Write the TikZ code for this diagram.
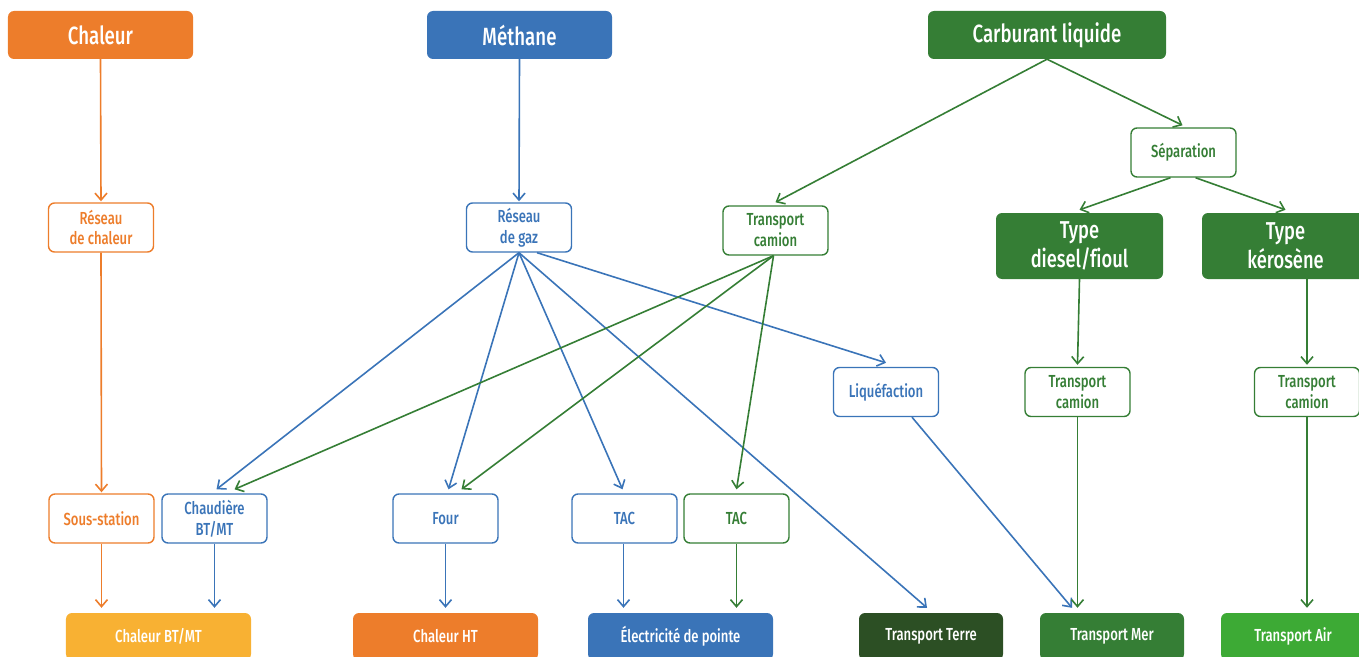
\documentclass[tikz,border=0pt]{standalone}
\usepackage{fontspec}
\setmainfont{Fira Sans}[UprightFont=* Medium, FakeStretch=0.75, Ligatures=CommonOff]
\usetikzlibrary{arrows.meta,calc}
\definecolor{cor}{RGB}{237,125,43}
\definecolor{cbl}{RGB}{58,116,184}
\definecolor{cgr}{RGB}{53,126,53}
\definecolor{cye}{RGB}{248,177,51}
\definecolor{cdg}{RGB}{44,79,36}
\definecolor{clg}{RGB}{61,170,53}
\begin{document}
\begin{tikzpicture}[x=1bp, y=-1bp,
  box/.style={rounded corners=6bp, inner sep=0pt, align=center},
  head/.style={box, fill=#1, text=white, minimum width=185bp, minimum height=48bp, font=\fontsize{25}{27}\selectfont},
  sub/.style={box, draw=#1, fill=white, text=#1, line width=1.4bp, minimum width=105bp, minimum height=49bp, font=\fontsize{17.5}{21}\selectfont},
  typ/.style={box, fill=cgr, text=white, minimum width=167bp, minimum height=66bp, font=\fontsize{24.5}{29}\selectfont},
  leaf/.style={box, fill=#1, text=white, minimum width=185bp, minimum height=47bp, font=\fontsize{17.5}{20}\selectfont},
  arr/.style={draw=#1, line width=1.6bp, -{Straight Barb[length=7bp,width=12bp]}}]
\useasboundingbox (0,0) rectangle (1359,657);
\clip (0,0) rectangle (1359,657);
% nodes
\node[head=cor] (chal) at (100.5,35) {Chaleur};
\node[head=cbl] (meth) at (519.5,35) {Méthane};
\node[head=cgr, minimum width=238bp] (carb) at (1047,35) {Carburant liquide};
\node[sub=cor] (rch) at (101,227.5) {Réseau\\de chaleur};
\node[sub=cbl] (rgaz) at (519,227.5) {Réseau\\de gaz};
\node[sub=cgr] (cam1) at (775.5,230.5) {Transport\\camion};
\node[sub=cgr] (sep) at (1183.5,152.5) {Séparation};
\node[typ] (tdie) at (1079.5,246) {Type\\diesel/fioul};
\node[typ] (tker) at (1285.5,246) {Type\\kérosène};
\node[sub=cbl] (liq) at (886,392) {Liquéfaction};
\node[sub=cgr] (cam2) at (1077.5,392) {Transport\\camion};
\node[sub=cgr] (cam3) at (1307,392) {Transport\\camion};
\node[sub=cor] (sous) at (101.5,518.5) {Sous-station};
\node[sub=cbl] (chaud) at (214.5,518.5) {Chaudière\\BT/MT};
\node[sub=cbl] (four) at (445.5,518.5) {Four};
\node[sub=cbl] (tac1) at (624.5,518.5) {TAC};
\node[sub=cgr] (tac2) at (736.5,518.5) {TAC};
\node[leaf=cye] (cbt) at (158.5,636.5) {Chaleur BT/MT};
\node[leaf=cor] (cht) at (445.5,636.5) {Chaleur HT};
\node[leaf=cbl] (elec) at (680.5,636.5) {Électricité de pointe};
\node[leaf=cdg, minimum width=144bp] (terre) at (931,636.5) {Transport Terre};
\node[leaf=cgr, minimum width=144bp] (mer) at (1112,636.5) {Transport Mer};
\node[leaf=clg, minimum width=144bp] (air) at (1293,636.5) {Transport Air};
% orange
\draw[arr=cor] (chal.south) -- ($(rch.north)+(0,-1)$);
\draw[arr=cor] (rch.south) -- ($(sous.north)+(0,-1)$);
\draw[arr=cor] (sous.south) -- ($(sous.south |- cbt.north)+(0,-5)$);
% blue
\draw[arr=cbl] (chaud.south) -- ($(chaud.south |- cbt.north)+(0,-5)$);
\draw[arr=cbl] (meth.south) -- ($(rgaz.north)+(0,-1)$);
\draw[arr=cbl] (rgaz.south) -- ($(chaud.north)+(2,-4)$);
\draw[arr=cbl] (rgaz.south) -- ($(four.north)+(3,-4)$);
\draw[arr=cbl] (rgaz.south) -- ($(tac1.north)+(-2,-4)$);
\draw[arr=cbl] (rgaz.south) -- ($(terre.north)+(-4,-5)$);
\draw[arr=cbl] ($(rgaz.south)+(18,0)$) -- ($(liq.north)+(0,-4)$);
\draw[arr=cbl] ($(liq.south)+(26,0)$) -- ($(mer.north)+(-40,-5)$);
\draw[arr=cbl] (four.south) -- ($(four.south |- cht.north)+(0,-5)$);
\draw[arr=cbl] ($(tac1.south)+(-1,0)$) -- ($(tac1.south |- elec.north)+(-1,-5)$);
% green
\draw[arr=cgr] (tac2.south) -- ($(tac2.south |- elec.north)+(0,-5)$);
\draw[arr=cgr] (carb.south) -- ($(cam1.north)+(0,-3)$);
\draw[arr=cgr] (carb.south) -- ($(sep.north)+(-1,-2)$);
\draw[arr=cgr] ($(cam1.south)+(-2,0)$) -- ($(chaud.north)+(20,-4)$);
\draw[arr=cgr] ($(cam1.south)+(-2,0)$) -- ($(four.north)+(16,-4)$);
\draw[arr=cgr] ($(cam1.south)+(-2,0)$) -- ($(tac2.north)+(0,-4)$);
\draw[arr=cgr] ($(sep.south)+(-13,0)$) -- ($(tdie.north)+(0,-3)$);
\draw[arr=cgr] ($(sep.south)+(12,0)$) -- ($(tker.north)+(0,-3)$);
\draw[arr=cgr] (tdie.south) -- ($(cam2.north)+(0,-2)$);
\draw[arr=cgr] (cam3.north |- tker.south) -- ($(cam3.north)+(0,-2)$);
\draw[arr=cgr] (cam2.south) -- ($(cam2.south |- mer.north)+(0,-5)$);
\draw[arr=cgr] (cam3.south) -- ($(cam3.south |- air.north)+(0,-5)$);
\end{tikzpicture}
\end{document}
